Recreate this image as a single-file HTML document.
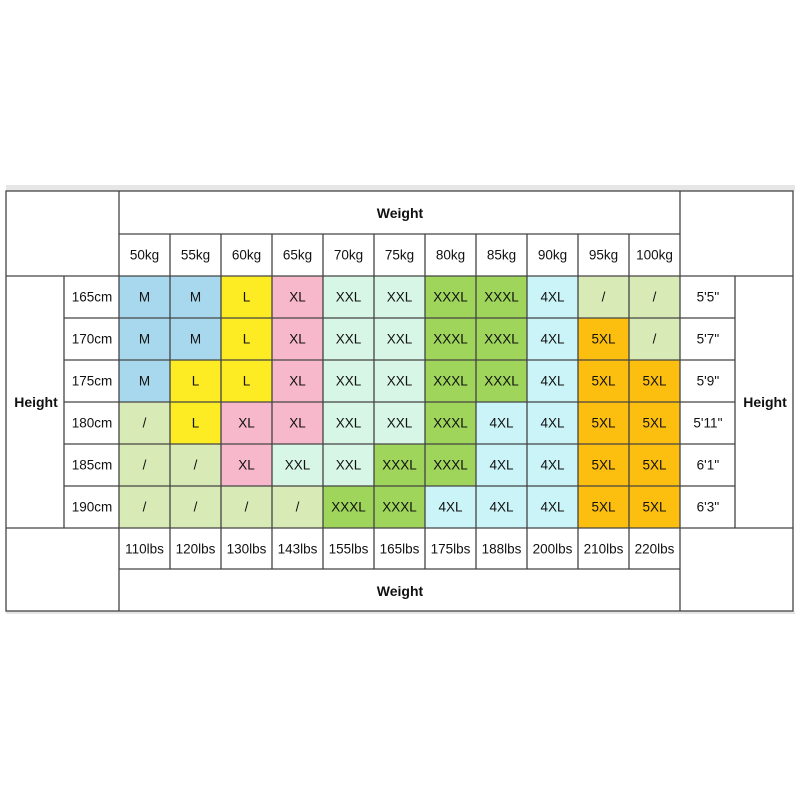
<!DOCTYPE html>
<html><head><meta charset="utf-8"><style>
html,body{margin:0;padding:0;background:#fff;width:800px;height:800px;overflow:hidden}
svg text{font-family:"Liberation Sans",Arial,sans-serif;font-size:13.5px;fill:#111;text-anchor:middle;dominant-baseline:central}
.b{font-weight:bold;font-size:14px}
</style></head><body>
<svg width="800" height="800" viewBox="0 0 800 800">
<rect x="6" y="185" width="789" height="6" fill="#e6e6e6"/>
<rect x="6" y="611" width="789" height="3" fill="#e6e6e6"/>
<g>
<!-- row 165 -->
<rect x="119" y="276" width="51" height="42" fill="#a8d8ee"/><rect x="170" y="276" width="51" height="42" fill="#a8d8ee"/><rect x="221" y="276" width="51" height="42" fill="#fdec24"/><rect x="272" y="276" width="51" height="42" fill="#f7b8cc"/><rect x="323" y="276" width="51" height="42" fill="#d8f6e6"/><rect x="374" y="276" width="51" height="42" fill="#d8f6e6"/><rect x="425" y="276" width="51" height="42" fill="#9ed55a"/><rect x="476" y="276" width="51" height="42" fill="#9ed55a"/><rect x="527" y="276" width="51" height="42" fill="#caf4f8"/><rect x="578" y="276" width="51" height="42" fill="#d8eab6"/><rect x="629" y="276" width="51" height="42" fill="#d8eab6"/>
<!-- row 170 -->
<rect x="119" y="318" width="51" height="42" fill="#a8d8ee"/><rect x="170" y="318" width="51" height="42" fill="#a8d8ee"/><rect x="221" y="318" width="51" height="42" fill="#fdec24"/><rect x="272" y="318" width="51" height="42" fill="#f7b8cc"/><rect x="323" y="318" width="51" height="42" fill="#d8f6e6"/><rect x="374" y="318" width="51" height="42" fill="#d8f6e6"/><rect x="425" y="318" width="51" height="42" fill="#9ed55a"/><rect x="476" y="318" width="51" height="42" fill="#9ed55a"/><rect x="527" y="318" width="51" height="42" fill="#caf4f8"/><rect x="578" y="318" width="51" height="42" fill="#fdbf0f"/><rect x="629" y="318" width="51" height="42" fill="#d8eab6"/>
<!-- row 175 -->
<rect x="119" y="360" width="51" height="42" fill="#a8d8ee"/><rect x="170" y="360" width="51" height="42" fill="#fdec24"/><rect x="221" y="360" width="51" height="42" fill="#fdec24"/><rect x="272" y="360" width="51" height="42" fill="#f7b8cc"/><rect x="323" y="360" width="51" height="42" fill="#d8f6e6"/><rect x="374" y="360" width="51" height="42" fill="#d8f6e6"/><rect x="425" y="360" width="51" height="42" fill="#9ed55a"/><rect x="476" y="360" width="51" height="42" fill="#9ed55a"/><rect x="527" y="360" width="51" height="42" fill="#caf4f8"/><rect x="578" y="360" width="51" height="42" fill="#fdbf0f"/><rect x="629" y="360" width="51" height="42" fill="#fdbf0f"/>
<!-- row 180 -->
<rect x="119" y="402" width="51" height="42" fill="#d8eab6"/><rect x="170" y="402" width="51" height="42" fill="#fdec24"/><rect x="221" y="402" width="51" height="42" fill="#f7b8cc"/><rect x="272" y="402" width="51" height="42" fill="#f7b8cc"/><rect x="323" y="402" width="51" height="42" fill="#d8f6e6"/><rect x="374" y="402" width="51" height="42" fill="#d8f6e6"/><rect x="425" y="402" width="51" height="42" fill="#9ed55a"/><rect x="476" y="402" width="51" height="42" fill="#caf4f8"/><rect x="527" y="402" width="51" height="42" fill="#caf4f8"/><rect x="578" y="402" width="51" height="42" fill="#fdbf0f"/><rect x="629" y="402" width="51" height="42" fill="#fdbf0f"/>
<!-- row 185 -->
<rect x="119" y="444" width="51" height="42" fill="#d8eab6"/><rect x="170" y="444" width="51" height="42" fill="#d8eab6"/><rect x="221" y="444" width="51" height="42" fill="#f7b8cc"/><rect x="272" y="444" width="51" height="42" fill="#d8f6e6"/><rect x="323" y="444" width="51" height="42" fill="#d8f6e6"/><rect x="374" y="444" width="51" height="42" fill="#9ed55a"/><rect x="425" y="444" width="51" height="42" fill="#9ed55a"/><rect x="476" y="444" width="51" height="42" fill="#caf4f8"/><rect x="527" y="444" width="51" height="42" fill="#caf4f8"/><rect x="578" y="444" width="51" height="42" fill="#fdbf0f"/><rect x="629" y="444" width="51" height="42" fill="#fdbf0f"/>
<!-- row 190 -->
<rect x="119" y="486" width="51" height="42" fill="#d8eab6"/><rect x="170" y="486" width="51" height="42" fill="#d8eab6"/><rect x="221" y="486" width="51" height="42" fill="#d8eab6"/><rect x="272" y="486" width="51" height="42" fill="#d8eab6"/><rect x="323" y="486" width="51" height="42" fill="#9ed55a"/><rect x="374" y="486" width="51" height="42" fill="#9ed55a"/><rect x="425" y="486" width="51" height="42" fill="#caf4f8"/><rect x="476" y="486" width="51" height="42" fill="#caf4f8"/><rect x="527" y="486" width="51" height="42" fill="#caf4f8"/><rect x="578" y="486" width="51" height="42" fill="#fdbf0f"/><rect x="629" y="486" width="51" height="42" fill="#fdbf0f"/>
</g>
<g stroke="#444" stroke-width="1.3" fill="none">
<rect x="6" y="191" width="787" height="420"/>
<line x1="119" y1="191" x2="119" y2="611"/>
<line x1="680" y1="191" x2="680" y2="611"/>
<line x1="119" y1="234" x2="680" y2="234"/>
<line x1="6" y1="276" x2="793" y2="276"/>
<line x1="6" y1="528" x2="793" y2="528"/>
<line x1="119" y1="569" x2="680" y2="569"/>
<line x1="64" y1="276" x2="64" y2="528"/>
<line x1="735" y1="276" x2="735" y2="528"/>
<line x1="64" y1="318" x2="735" y2="318"/><line x1="64" y1="360" x2="735" y2="360"/><line x1="64" y1="402" x2="735" y2="402"/><line x1="64" y1="444" x2="735" y2="444"/><line x1="64" y1="486" x2="735" y2="486"/>
<line x1="170" y1="234" x2="170" y2="276"/><line x1="221" y1="234" x2="221" y2="276"/><line x1="272" y1="234" x2="272" y2="276"/><line x1="323" y1="234" x2="323" y2="276"/><line x1="374" y1="234" x2="374" y2="276"/><line x1="425" y1="234" x2="425" y2="276"/><line x1="476" y1="234" x2="476" y2="276"/><line x1="527" y1="234" x2="527" y2="276"/><line x1="578" y1="234" x2="578" y2="276"/><line x1="629" y1="234" x2="629" y2="276"/>
<line x1="170" y1="276" x2="170" y2="569"/><line x1="221" y1="276" x2="221" y2="569"/><line x1="272" y1="276" x2="272" y2="569"/><line x1="323" y1="276" x2="323" y2="569"/><line x1="374" y1="276" x2="374" y2="569"/><line x1="425" y1="276" x2="425" y2="569"/><line x1="476" y1="276" x2="476" y2="569"/><line x1="527" y1="276" x2="527" y2="569"/><line x1="578" y1="276" x2="578" y2="569"/><line x1="629" y1="276" x2="629" y2="569"/>
</g>
<text class="b" x="400" y="213">Weight</text>
<text class="b" x="400" y="591">Weight</text>
<text class="b" x="36" y="402">Height</text>
<text class="b" x="765" y="402">Height</text>
<g>
<text x="144.5" y="255">50kg</text><text x="195.5" y="255">55kg</text><text x="246.5" y="255">60kg</text><text x="297.5" y="255">65kg</text><text x="348.5" y="255">70kg</text><text x="399.5" y="255">75kg</text><text x="450.5" y="255">80kg</text><text x="501.5" y="255">85kg</text><text x="552.5" y="255">90kg</text><text x="603.5" y="255">95kg</text><text x="654.5" y="255">100kg</text>
<text x="144.5" y="549">110lbs</text><text x="195.5" y="549">120lbs</text><text x="246.5" y="549">130lbs</text><text x="297.5" y="549">143lbs</text><text x="348.5" y="549">155lbs</text><text x="399.5" y="549">165lbs</text><text x="450.5" y="549">175lbs</text><text x="501.5" y="549">188lbs</text><text x="552.5" y="549">200lbs</text><text x="603.5" y="549">210lbs</text><text x="654.5" y="549">220lbs</text>
<text x="92" y="297">165cm</text><text x="92" y="339">170cm</text><text x="92" y="381">175cm</text><text x="92" y="423">180cm</text><text x="92" y="465">185cm</text><text x="92" y="507">190cm</text>
<text x="708" y="297">5'5''</text><text x="708" y="339">5'7''</text><text x="708" y="381">5'9''</text><text x="708" y="423">5'11''</text><text x="708" y="465">6'1''</text><text x="708" y="507">6'3''</text>
</g>
<g>
<text x="144.5" y="297">M</text><text x="195.5" y="297">M</text><text x="246.5" y="297">L</text><text x="297.5" y="297">XL</text><text x="348.5" y="297">XXL</text><text x="399.5" y="297">XXL</text><text x="450.5" y="297">XXXL</text><text x="501.5" y="297">XXXL</text><text x="552.5" y="297">4XL</text><text x="603.5" y="297">/</text><text x="654.5" y="297">/</text>
<text x="144.5" y="339">M</text><text x="195.5" y="339">M</text><text x="246.5" y="339">L</text><text x="297.5" y="339">XL</text><text x="348.5" y="339">XXL</text><text x="399.5" y="339">XXL</text><text x="450.5" y="339">XXXL</text><text x="501.5" y="339">XXXL</text><text x="552.5" y="339">4XL</text><text x="603.5" y="339">5XL</text><text x="654.5" y="339">/</text>
<text x="144.5" y="381">M</text><text x="195.5" y="381">L</text><text x="246.5" y="381">L</text><text x="297.5" y="381">XL</text><text x="348.5" y="381">XXL</text><text x="399.5" y="381">XXL</text><text x="450.5" y="381">XXXL</text><text x="501.5" y="381">XXXL</text><text x="552.5" y="381">4XL</text><text x="603.5" y="381">5XL</text><text x="654.5" y="381">5XL</text>
<text x="144.5" y="423">/</text><text x="195.5" y="423">L</text><text x="246.5" y="423">XL</text><text x="297.5" y="423">XL</text><text x="348.5" y="423">XXL</text><text x="399.5" y="423">XXL</text><text x="450.5" y="423">XXXL</text><text x="501.5" y="423">4XL</text><text x="552.5" y="423">4XL</text><text x="603.5" y="423">5XL</text><text x="654.5" y="423">5XL</text>
<text x="144.5" y="465">/</text><text x="195.5" y="465">/</text><text x="246.5" y="465">XL</text><text x="297.5" y="465">XXL</text><text x="348.5" y="465">XXL</text><text x="399.5" y="465">XXXL</text><text x="450.5" y="465">XXXL</text><text x="501.5" y="465">4XL</text><text x="552.5" y="465">4XL</text><text x="603.5" y="465">5XL</text><text x="654.5" y="465">5XL</text>
<text x="144.5" y="507">/</text><text x="195.5" y="507">/</text><text x="246.5" y="507">/</text><text x="297.5" y="507">/</text><text x="348.5" y="507">XXXL</text><text x="399.5" y="507">XXXL</text><text x="450.5" y="507">4XL</text><text x="501.5" y="507">4XL</text><text x="552.5" y="507">4XL</text><text x="603.5" y="507">5XL</text><text x="654.5" y="507">5XL</text>
</g>
</svg>
</body></html>
